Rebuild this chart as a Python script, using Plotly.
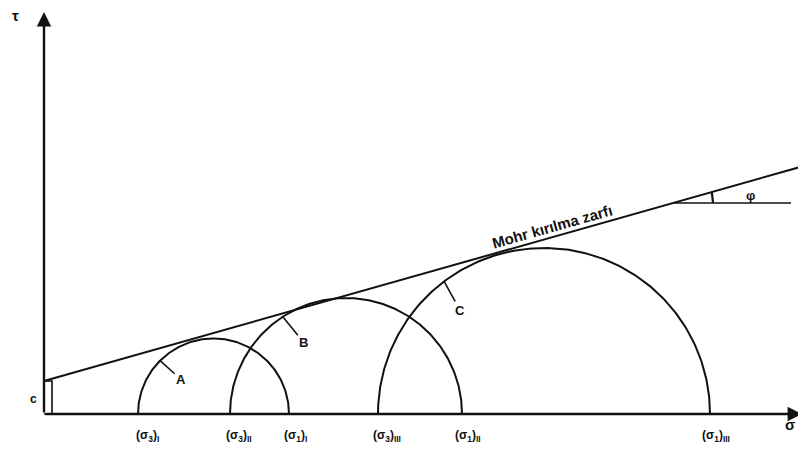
import numpy as np
import plotly.graph_objects as go

# ---- data (diagram units) ----
circle_names = ["A", "B", "C"]
sigma3 = [94, 186, 334]          # minor principal stresses
sigma1 = [245, 418, 666]         # major principal stresses
leader_angles_deg = [135, 123, 127]
cohesion = 33
tan_phi = 0.283
sigma_max = 762
envelope_label = "Mohr kırılma zarfı"
tick_labels_s3 = ["(σ<sub>3</sub>)<sub>I</sub>", "(σ<sub>3</sub>)<sub>II</sub>", "(σ<sub>3</sub>)<sub>III</sub>"]
tick_labels_s1 = ["(σ<sub>1</sub>)<sub>I</sub>", "(σ<sub>1</sub>)<sub>II</sub>", "(σ<sub>1</sub>)<sub>III</sub>"]

LW = 2
BLACK = "#111111"
FONT = dict(family="Liberation Sans, Arial", size=12, color=BLACK)

fig = go.Figure()

# Mohr circles
th = np.linspace(0, np.pi, 200)
for s3, s1 in zip(sigma3, sigma1):
    c0 = (s1 + s3) / 2
    r = (s1 - s3) / 2
    fig.add_trace(go.Scatter(x=c0 + r * np.cos(th), y=r * np.sin(th), mode="lines",
                             line=dict(color=BLACK, width=LW), hoverinfo="skip", showlegend=False))

# failure envelope
fig.add_trace(go.Scatter(x=[0, sigma_max], y=[cohesion, cohesion + tan_phi * sigma_max], mode="lines",
                         line=dict(color=BLACK, width=LW), hoverinfo="skip", showlegend=False))

# cohesion marker (narrow rectangle)
fig.add_trace(go.Scatter(x=[0, 8, 8, 0], y=[cohesion, cohesion, 0, 0], mode="lines",
                         line=dict(color=BLACK, width=1.6), hoverinfo="skip", showlegend=False))

# phi angle marker
tau_p = 211
sig_p = (tau_p - cohesion) / tan_phi
fig.add_trace(go.Scatter(x=[sig_p, sig_p + 118], y=[tau_p, tau_p], mode="lines",
                         line=dict(color=BLACK, width=1.6), hoverinfo="skip", showlegend=False))
phi = np.arctan(tan_phi)
ta = np.linspace(0, phi, 20)
fig.add_trace(go.Scatter(x=sig_p + 40 * np.cos(ta), y=tau_p + 40 * np.sin(ta), mode="lines",
                         line=dict(color=BLACK, width=2.2), hoverinfo="skip", showlegend=False))

ann = []
# axes arrows
ann.append(dict(x=0, y=402, ax=0, ay=0, xref="x", yref="y", axref="x", ayref="y",
                showarrow=True, arrowhead=2, arrowsize=1.2, arrowwidth=2.4, arrowcolor=BLACK, text=""))
ann.append(dict(x=758, y=0, ax=0, ay=0, xref="x", yref="y", axref="x", ayref="y",
                showarrow=True, arrowhead=2, arrowsize=1.2, arrowwidth=2.4, arrowcolor=BLACK, text=""))
ann.append(dict(x=-29, y=399, text="<b>τ</b>", showarrow=False, font=dict(FONT, size=15)))
ann.append(dict(x=746, y=-10, text="<b>σ</b>", showarrow=False, font=dict(FONT, size=15)))
ann.append(dict(x=-11, y=15, text="<b>c</b>", showarrow=False, font=dict(FONT, size=12)))

# stress labels
for s, t in zip(sigma3, tick_labels_s3):
    ann.append(dict(x=s, y=-22, text="<b>" + t + "</b>", showarrow=False, font=FONT, xshift=9))
for s, t in zip(sigma1, tick_labels_s1):
    ann.append(dict(x=s, y=-22, text="<b>" + t + "</b>", showarrow=False, font=FONT, xshift=6))

# circle letters with leaders
offsets = [(21, -19), (21, -26), (16, -29)]
for name, s3, s1, a, (dx, dy) in zip(circle_names, sigma3, sigma1, leader_angles_deg, offsets):
    c0 = (s1 + s3) / 2
    r = (s1 - s3) / 2
    px = c0 + r * np.cos(np.radians(a))
    py = r * np.sin(np.radians(a))
    ann.append(dict(x=px, y=py, ax=px + dx, ay=py + dy, xref="x", yref="y", axref="x", ayref="y",
                    text="<b>" + name + "</b>", showarrow=True, arrowhead=0, arrowwidth=1.6,
                    arrowcolor=BLACK, font=dict(FONT, size=13)))

# envelope label
xl = 508
ann.append(dict(x=xl, y=cohesion + tan_phi * xl, text="<b>" + envelope_label + "</b>", showarrow=False,
                textangle=-np.degrees(phi), yshift=11, font=dict(FONT, size=15)))
ann.append(dict(x=sig_p + 78, y=tau_p, text="<b>φ</b>", showarrow=False, yshift=8,
                font=dict(FONT, size=13)))

fig.update_layout(
    width=798, height=444,
    margin=dict(l=0, r=0, t=0, b=0),
    paper_bgcolor="white", plot_bgcolor="white",
    xaxis=dict(range=[-36, 762], visible=False, fixedrange=True),
    yaxis=dict(range=[-38, 406], visible=False, fixedrange=True),
    annotations=ann,
    showlegend=False,
)

fig.write_html("out.html")
